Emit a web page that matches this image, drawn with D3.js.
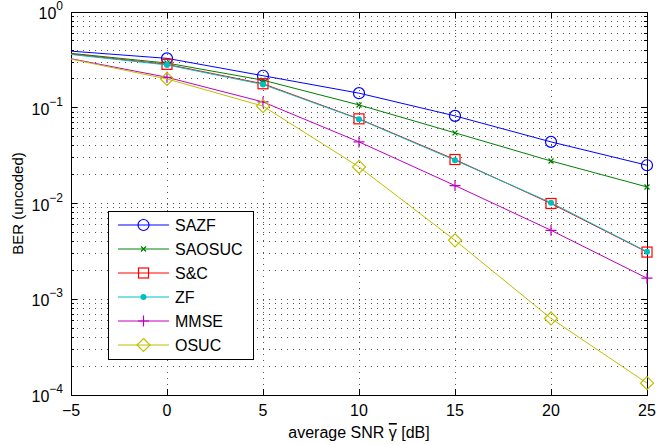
<!DOCTYPE html>
<html><head><meta charset="utf-8">
<script src="https://cdn.jsdelivr.net/npm/d3@7"></script>
<style>body{margin:0;background:#fff}svg{display:block}text{font-family:"Liberation Sans",Arial,sans-serif;fill:#000}</style>
</head><body><svg id="c" width="672" height="445"></svg>
<script>
const snr = [-5, 0, 5, 10, 15, 20, 25];
const seriesNames = ["SAZF", "SAOSUC", "S&C", "ZF", "MMSE", "OSUC"];
const sazf   = [0.39, 0.328, 0.216, 0.142, 0.0822, 0.0440, 0.0251];
const saosuc = [0.37, 0.293, 0.194, 0.107, 0.0547, 0.0278, 0.0149];
const sc     = [0.365, 0.284, 0.178, 0.0766, 0.0288, 0.0100, 0.00311];
const zf     = [0.36, 0.280, 0.175, 0.0760, 0.0283, 0.0102, 0.00314];
const mmse   = [0.325, 0.208, 0.115, 0.044, 0.0154, 0.00525, 0.00166];
const osuc   = [0.322, 0.200, 0.104, 0.0241, 0.00412, 0.00063, 0.000133];
const xTicks = [-5, 0, 5, 10, 15, 20, 25];
const yTickExps = [0, -1, -2, -3, -4];

const colors = ["#0000ff", "#008000", "#ff0000", "#00bfbf", "#bf00bf", "#bfbf00"];
const markers = ["circle", "x", "square", "dot", "plus", "diamond"];
const values = [sazf, saosuc, sc, zf, mmse, osuc];

const L = 71, R = 647, T = 12, B = 395;
const svg = d3.select("#c");
const x = d3.scaleLinear().domain([-5, 25]).range([L, R]);
const y = d3.scaleLog().domain([1e-4, 1]).range([B, T]);

// grid
const g = svg.append("g");
const minorVals = [];
for (let e = -4; e < 0; e++) for (let m = 1; m <= 9; m++) minorVals.push(m * Math.pow(10, e));
minorVals.push(1);
g.selectAll(".hg").data(minorVals).enter().append("line")
  .attr("x1", L).attr("x2", R).attr("y1", d => y(d)).attr("y2", d => y(d))
  .attr("stroke", "#555").attr("stroke-width", 1).attr("stroke-dasharray", "1,5").attr("shape-rendering", "crispEdges");
g.selectAll(".vg").data(xTicks).enter().append("line")
  .attr("x1", d => x(d)).attr("x2", d => x(d)).attr("y1", T).attr("y2", B)
  .attr("stroke", "#555").attr("stroke-width", 1).attr("stroke-dasharray", "1,5").attr("shape-rendering", "crispEdges");

// axes with inside ticks
const ax = svg.append("g");
function ticksY(side) {
  const xx = side === "l" ? L : R, dir = side === "l" ? 1 : -1;
  minorVals.forEach(v => {
    const maj = Math.abs(Math.log10(v) - Math.round(Math.log10(v))) < 1e-9;
    ax.append("line").attr("x1", xx).attr("x2", xx + dir * (maj ? 6 : 3))
      .attr("y1", y(v)).attr("y2", y(v)).attr("stroke", "#000").attr("shape-rendering", "crispEdges");
  });
}
ticksY("l"); ticksY("r");
xTicks.forEach(t => {
  ax.append("line").attr("x1", x(t)).attr("x2", x(t)).attr("y1", B).attr("y2", B - 6).attr("stroke", "#000").attr("shape-rendering", "crispEdges");
  ax.append("line").attr("x1", x(t)).attr("x2", x(t)).attr("y1", T).attr("y2", T + 6).attr("stroke", "#000").attr("shape-rendering", "crispEdges");
});
ax.append("rect").attr("x", L).attr("y", T).attr("width", R - L).attr("height", B - T)
  .attr("fill", "none").attr("stroke", "#000").attr("stroke-width", 1).attr("shape-rendering", "crispEdges");

// tick labels
svg.selectAll(".xl").data(xTicks).enter().append("text")
  .attr("x", d => x(d)).attr("y", B + 21).attr("text-anchor", "middle").attr("font-size", 16)
  .text(d => d < 0 ? "\u2212" + Math.abs(d) : d);
yTickExps.forEach(e => {
  const t = svg.append("text").attr("x", L - 8).attr("y", y(Math.pow(10, e)) + 7).attr("text-anchor", "end").attr("font-size", 16);
  t.append("tspan").text("10");
  t.append("tspan").attr("dy", -9).attr("font-size", 12).text(e < 0 ? "\u2212" + Math.abs(e) : e);
});

// axis labels
const xl = svg.append("text").attr("x", (L + R) / 2).attr("y", 438).attr("text-anchor", "middle").attr("font-size", 16);
xl.append("tspan").text("average SNR ");
xl.append("tspan").style("text-decoration", "overline").text("\u03B3");
xl.append("tspan").text(" [dB]");
svg.append("text").attr("transform", `translate(23,${(T + B) / 2}) rotate(-90)`).attr("text-anchor", "middle").attr("font-size", 15)
  .text("BER (uncoded)");

function drawMarker(sel, type, cx, cy, col) {
  if (type === "circle") sel.append("circle").attr("cx", cx).attr("cy", cy).attr("r", 5.5).attr("fill", "none").attr("stroke", col).attr("stroke-width", 1.2);
  else if (type === "square") sel.append("rect").attr("x", cx - 5).attr("y", cy - 5).attr("width", 10).attr("height", 10).attr("fill", "none").attr("stroke", col).attr("stroke-width", 1.2);
  else if (type === "diamond") sel.append("path").attr("d", `M${cx},${cy - 6.5}L${cx + 6.5},${cy}L${cx},${cy + 6.5}L${cx - 6.5},${cy}Z`).attr("fill", "none").attr("stroke", col).attr("stroke-width", 1.2);
  else if (type === "dot") sel.append("circle").attr("cx", cx).attr("cy", cy).attr("r", 3).attr("fill", col);
  else if (type === "plus") sel.append("path").attr("d", `M${cx - 5.5},${cy}H${cx + 5.5}M${cx},${cy - 5.5}V${cy + 5.5}`).attr("stroke", col).attr("stroke-width", 1.2);
  else if (type === "x") sel.append("path").attr("d", `M${cx - 2.5},${cy - 2.5}L${cx + 2.5},${cy + 2.5}M${cx - 2.5},${cy + 2.5}L${cx + 2.5},${cy - 2.5}`).attr("stroke", col).attr("stroke-width", 1.3);
}

const line = d3.line().x(d => x(d[0])).y(d => y(d[1]));
const plot = svg.append("g");
values.forEach((vals, i) => {
  const pts = snr.map((s, j) => [s, vals[j]]);
  plot.append("path").attr("d", line(pts)).attr("fill", "none").attr("stroke", colors[i]).attr("stroke-width", 1);
  pts.forEach(p => { if (p[0] >= 0) drawMarker(plot, markers[i], x(p[0]), y(p[1]), colors[i]); });
});

// legend
const lg = svg.append("g");
lg.append("rect").attr("x", 108).attr("y", 211).attr("width", 145).attr("height", 148).attr("fill", "#fff").attr("stroke", "#000").attr("stroke-width", 1).attr("shape-rendering", "crispEdges");
seriesNames.forEach((n, i) => {
  const ly = 225 + i * 24;
  lg.append("line").attr("x1", 118).attr("x2", 169).attr("y1", ly).attr("y2", ly).attr("stroke", colors[i]).attr("stroke-width", 1);
  drawMarker(lg, markers[i], 143.5, ly, colors[i]);
  lg.append("text").attr("x", 175).attr("y", ly + 6).attr("font-size", 16).text(n);
});
</script></body></html>
